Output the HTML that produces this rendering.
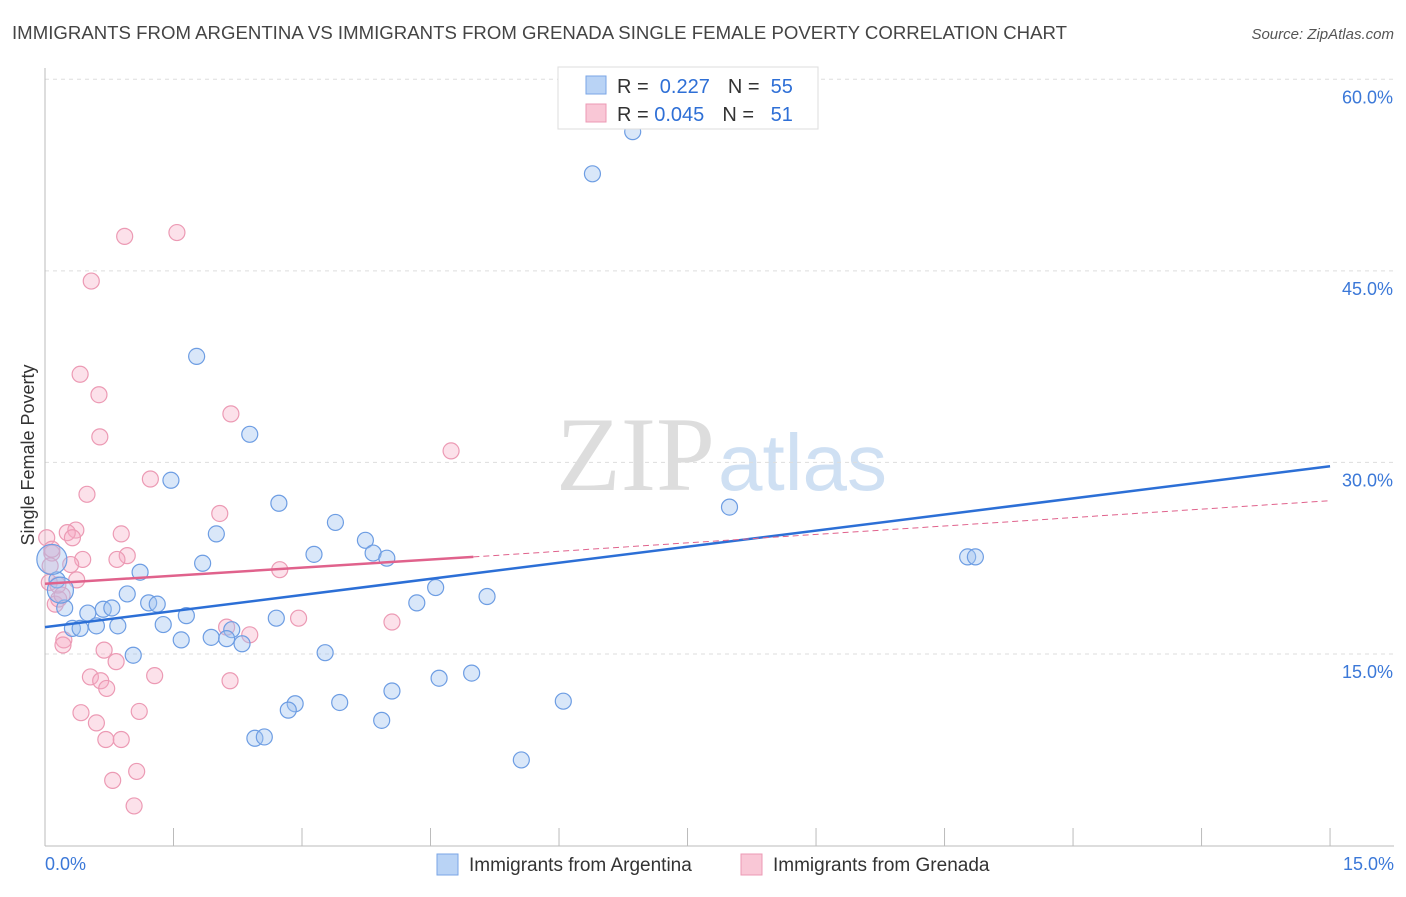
<!DOCTYPE html>
<html><head><meta charset="utf-8"><style>
body{margin:0;background:#fff;font-family:"Liberation Sans",sans-serif}
</style></head><body>
<svg id="c" width="1406" height="892" xmlns="http://www.w3.org/2000/svg">
<text x="12" y="39" font-size="18.6" fill="#444" textLength="1055">IMMIGRANTS FROM ARGENTINA VS IMMIGRANTS FROM GRENADA SINGLE FEMALE POVERTY CORRELATION CHART</text>
<text x="1394" y="39" font-size="15" fill="#555" font-style="italic" text-anchor="end">Source: ZipAtlas.com</text>
<text x="715" y="490" font-size="106" fill="#ddd" text-anchor="end" font-family="Liberation Serif">ZIP</text>
<text x="718" y="490" font-size="80" fill="#cfe0f3">atlas</text>
<text transform="translate(34,455) rotate(-90)" font-size="18" fill="#333" text-anchor="middle">Single Female Poverty</text>
<g id="grid"></g><g id="pts"></g><g id="lines"></g>
<g>
<rect x="558" y="67" width="260" height="62" fill="#fff" stroke="#ddd"/>
<rect x="586" y="76" width="20" height="18" fill="#b9d3f5" stroke="#7aa6e6"/>
<rect x="586" y="104" width="20" height="18" fill="#f9c7d6" stroke="#ec9ab4"/>
<text x="617" y="93" font-size="20" fill="#333">R = <tspan fill="#2e6fd6">&#160;0.227</tspan><tspan dx="18">N = </tspan><tspan fill="#2e6fd6">&#160;55</tspan></text>
<text x="617" y="121" font-size="20" fill="#333">R = <tspan fill="#2e6fd6">0.045</tspan><tspan dx="18">N = </tspan><tspan fill="#2e6fd6">&#160;&#160;51</tspan></text>
</g>
<g>
<rect x="437" y="854" width="21" height="21" fill="#b9d3f5" stroke="#7aa6e6"/>
<text x="469" y="871" font-size="19" fill="#333">Immigrants from Argentina</text>
<rect x="741" y="854" width="21" height="21" fill="#f9c7d6" stroke="#ec9ab4"/>
<text x="773" y="871" font-size="19" fill="#333">Immigrants from Grenada</text>
</g>
</svg>
<script>
const yTicks=[15,30,45,60];
const xTickLabels=["0.0%","15.0%"];
const blueX=[6.86,6.39,1.77,2.39,1.47,7.99,2.73,3.39,2.0,3.74,3.14,3.83,3.99,1.84,10.77,10.86,1.11,0.14,4.56,5.16,0.96,1.21,1.31,4.34,0.23,0.5,0.68,0.78,1.65,2.7,1.38,0.85,0.6,0.32,0.41,2.18,1.94,1.59,2.12,2.3,3.27,1.03,4.98,4.6,4.05,6.05,3.44,2.92,2.84,3.93,2.45,2.56,5.56,0.08,0.18];
const blueY=[55.9,52.6,38.3,32.2,28.6,26.5,26.8,25.3,24.4,23.9,22.8,22.9,22.5,22.1,22.6,22.6,21.4,20.8,20.2,19.5,19.7,19.0,18.9,19.0,18.6,18.2,18.5,18.6,18.0,17.8,17.3,17.2,17.2,17.0,17.0,16.9,16.3,16.1,16.2,15.8,15.1,14.9,13.5,13.1,12.1,11.3,11.2,11.1,10.6,9.8,8.4,8.5,6.7,22.4,20.0];
const blueR=[8,8,8,8,8,8,8,8,8,8,8,8,8,8,8,8,8,8,8,8,8,8,8,8,8,8,8,8,8,8,8,8,8,8,8,8,8,8,8,8,8,8,8,8,8,8,8,8,8,8,8,8,8,15,13];
const pinkX=[1.54,0.93,0.54,0.41,0.63,2.17,0.64,4.74,1.23,0.49,2.04,0.36,0.26,0.89,0.32,0.08,0.96,0.84,0.44,0.02,2.74,0.30,0.37,0.05,0.12,0.16,2.96,4.05,2.12,2.39,0.22,0.21,0.69,0.83,0.53,1.28,2.16,0.65,0.72,0.42,1.10,0.60,0.71,0.89,1.07,0.79,1.04,0.08,0.15,0.06,0.2];
const pinkY=[48.0,47.7,44.2,36.9,35.3,33.8,32.0,30.9,28.7,27.5,26.0,24.7,24.5,24.4,24.1,22.9,22.7,22.4,22.4,24.1,21.6,22.0,20.8,20.6,18.9,19.3,17.8,17.5,17.1,16.5,16.1,15.7,15.3,14.4,13.2,13.3,12.9,12.9,12.3,10.4,10.5,9.6,8.3,8.3,5.8,5.1,3.1,23.2,20.4,21.9,19.6];
const blueLine=[17.1,29.7];
const pinkLine=[20.5,22.6,27.0];
const X=v=>45+v*85.67, Y=v=>845.5-v*12.77;
const ns="http://www.w3.org/2000/svg";
function mk(t,a,p){const e=document.createElementNS(ns,t);for(const k in a)e.setAttribute(k,a[k]);document.getElementById(p).appendChild(e);return e;}
yTicks.forEach(t=>{
 const l=mk('line',{x1:45,x2:1394,y1:Y(t),y2:Y(t),stroke:'#ddd','stroke-dasharray':'4,4'},'grid');
 
 
 const tx=mk('text',{x:1393,y:Y(t)+24,'font-size':18,fill:'#3b78d8','text-anchor':'end'},'grid');tx.textContent=t.toFixed(1)+'%';
 
 
});
const ax=mk('line',{x1:45,x2:45,y1:68,y2:846,stroke:'#bbb'},'grid');


const bx=mk('line',{x1:45,x2:1394,y1:846,y2:846,stroke:'#bbb'},'grid');


for(let i=0;i<=10;i++){const v=i*1.5;const t=mk('line',{x1:X(v),x2:X(v),y1:828,y2:846,stroke:'#bbb'},'grid');
 
 }
[[0,'start',45],[1,'end',1394]].forEach(([i,a,x])=>{const t=mk('text',{x:x,y:870,'font-size':18,fill:'#3b78d8','text-anchor':a},'grid');t.textContent=xTickLabels[i];
 
 });
pinkX.forEach((x,i)=>{const c=mk('circle',{cx:X(x),cy:Y(pinkY[i]),r:8,fill:'rgba(246,170,195,0.35)',stroke:'#ec9ab4','stroke-width':1.2},'pts');
 
 });
blueX.forEach((x,i)=>{const c=mk('circle',{cx:X(x),cy:Y(blueY[i]),r:blueR[i],fill:'rgba(160,195,240,0.4)',stroke:'#6d9de3','stroke-width':1.2},'pts');
 
 });
const bl=mk('line',{x1:X(0),y1:Y(blueLine[0]),x2:X(15),y2:Y(blueLine[1]),stroke:'#2c6fd6','stroke-width':2.5},'lines');


const pl=mk('line',{x1:X(0),y1:Y(pinkLine[0]),x2:X(5),y2:Y(pinkLine[1]),stroke:'#e0628c','stroke-width':2.5},'lines');


const pd=mk('line',{x1:X(5),y1:Y(pinkLine[1]),x2:X(15),y2:Y(pinkLine[2]),stroke:'#e0628c','stroke-width':1,'stroke-dasharray':'6,4'},'lines');


</script>
</body></html>
